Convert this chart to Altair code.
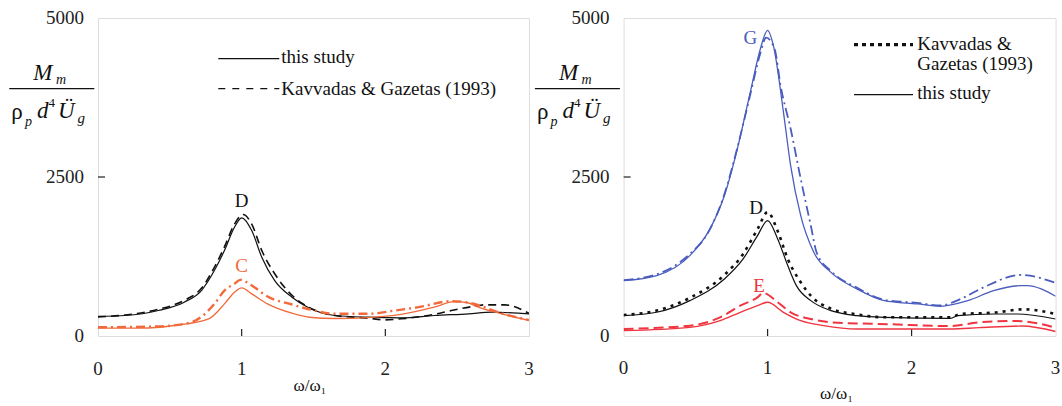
import altair as alt
import pandas as pd

FONT = "Liberation Serif"
ORANGE = "#F26A3C"
BLUE = "#4A5CBE"
RED = "#EE3540"
INK = "#111111"

# ---------------- Left panel data ----------------
L_D_STUDY_X = [0, 0.19, 0.42, 0.60, 0.72, 0.81, 0.88, 0.95, 1.0, 1.07, 1.14, 1.23, 1.35, 1.46, 1.65, 1.88, 2.11, 2.34, 2.58, 2.74, 3.0]
L_D_STUDY_Y = [307, 322, 401, 532, 715, 1030, 1344, 1710, 1858, 1658, 1239, 872, 610, 453, 322, 296, 286, 322, 349, 374, 349]
L_D_KG_X = [0, 0.19, 0.42, 0.60, 0.72, 0.81, 0.88, 0.95, 1.01, 1.07, 1.14, 1.23, 1.35, 1.46, 1.65, 1.88, 2.0, 2.11, 2.34, 2.46, 2.64, 2.69, 2.83, 3.0]
L_D_KG_Y = [300, 330, 420, 560, 750, 1080, 1400, 1760, 1910, 1760, 1344, 978, 640, 460, 322, 280, 254, 270, 341, 401, 475, 490, 490, 355]
L_C_STUDY_X = [0, 0.30, 0.53, 0.77, 0.88, 0.95, 1.0, 1.07, 1.18, 1.35, 1.47, 1.65, 1.88, 2.11, 2.34, 2.48, 2.58, 2.62, 2.81, 3.0]
L_C_STUDY_Y = [123, 123, 165, 270, 505, 689, 757, 663, 505, 358, 295, 275, 290, 340, 453, 540, 519, 479, 349, 244]
L_C_KG_X = [0, 0.42, 0.65, 0.81, 0.88, 0.95, 0.99, 1.07, 1.18, 1.35, 1.47, 1.65, 1.88, 2.07, 2.23, 2.46, 2.58, 2.81, 3.0]
L_C_KG_Y = [138, 150, 217, 505, 715, 820, 883, 794, 620, 495, 420, 349, 349, 401, 453, 547, 525, 355, 250]
L_LABEL_X = [1.0, 1.0]
L_LABEL_Y = [2130, 1093]
L_LABEL_T = ["D", "C"]
L_LABEL_C = [INK, ORANGE]

# ---------------- Right panel data ----------------
R_G_STUDY_X = [0, 0.23, 0.46, 0.60, 0.70, 0.79, 0.88, 0.95, 1.0, 1.04, 1.11, 1.16, 1.23, 1.32, 1.44, 1.62, 1.81, 2.04, 2.2, 2.39, 2.57, 2.76, 2.8, 3.0]
R_G_STUDY_Y = [870, 950, 1264, 1684, 2208, 2943, 3835, 4517, 4806, 4569, 3521, 2680, 1893, 1320, 1000, 740, 556, 504, 467, 556, 713, 792, 792, 625]
R_G_KG_X = [0, 0.23, 0.46, 0.58, 0.70, 0.79, 0.88, 0.95, 0.99, 1.05, 1.09, 1.16, 1.23, 1.30, 1.34, 1.44, 1.62, 1.81, 2.04, 2.2, 2.34, 2.5, 2.76, 3.0]
R_G_KG_Y = [880, 970, 1290, 1600, 2230, 2960, 3800, 4450, 4690, 4500, 3939, 3258, 2471, 1736, 1317, 1020, 760, 570, 520, 480, 582, 766, 960, 834]
R_D_STUDY_X = [0, 0.23, 0.46, 0.70, 0.83, 0.93, 1.0, 1.07, 1.14, 1.2, 1.30, 1.44, 1.62, 1.81, 2.27, 2.32, 2.57, 2.73, 3.0]
R_D_STUDY_Y = [320, 373, 556, 897, 1212, 1579, 1815, 1527, 1107, 792, 556, 398, 320, 294, 278, 320, 346, 346, 267]
R_D_KG_X = [0, 0.23, 0.46, 0.70, 0.83, 0.93, 1.0, 1.07, 1.14, 1.23, 1.30, 1.44, 1.62, 1.81, 2.27, 2.34, 2.57, 2.78, 3.0]
R_D_KG_Y = [330, 400, 600, 960, 1290, 1680, 1947, 1650, 1212, 845, 634, 430, 340, 294, 294, 346, 367, 420, 346]
R_E_STUDY_X = [0, 0.46, 0.67, 0.81, 0.93, 1.0, 1.11, 1.23, 1.39, 1.62, 2.27, 2.47, 2.77, 3.0]
R_E_STUDY_Y = [84, 136, 241, 373, 477, 530, 373, 241, 163, 110, 110, 131, 157, 70]
R_E_KG_X = [0, 0.46, 0.67, 0.81, 0.93, 0.97, 1.07, 1.16, 1.30, 1.44, 1.85, 2.27, 2.47, 2.73, 3.0]
R_E_KG_Y = [110, 163, 293, 477, 608, 677, 530, 373, 267, 215, 185, 157, 215, 236, 131]
R_LABEL_X = [0.88, 0.92, 0.94]
R_LABEL_Y = [4690, 2015, 792]
R_LABEL_T = ["G", "D", "E"]
R_LABEL_C = [BLUE, INK, RED]

X_TICKS = [0, 1, 2, 3]
Y_TICKS = [0, 2500, 5000]
X_INNER_TICKS = [1, 2]
Y_INNER_TICKS = [2500]

XS = alt.Scale(domain=[0, 3], nice=False)
YS = alt.Scale(domain=[0, 5000], nice=False)


def X(field):
    return alt.X(field, scale=XS, axis=None)


def Y(field):
    return alt.Y(field, scale=YS, axis=None)


def line(xs, ys, color, width, dash=None):
    df = pd.DataFrame({"x": xs, "y": ys})
    kw = dict(color=color, strokeWidth=width, clip=True, interpolate="monotone")
    if dash:
        kw["strokeDash"] = dash
    return alt.Chart(df).mark_line(**kw).encode(x=X("x:Q"), y=Y("y:Q"))


def txt(s, x, y, size, italic=False, color=INK, align="left", baseline="alphabetic"):
    kw = dict(text=s, font=FONT, fontSize=size, color=color, align=align, baseline=baseline)
    if italic:
        kw["fontStyle"] = "italic"
    return alt.Chart(pd.DataFrame({"k": [0]})).mark_text(**kw).encode(
        x=alt.value(x), y=alt.value(y))


def hrule(x1, x2, y, width=1.2, dash=None, color=INK):
    kw = dict(color=color, strokeWidth=width)
    if dash:
        kw["strokeDash"] = dash
    return alt.Chart(pd.DataFrame({"k": [0]})).mark_rule(**kw).encode(
        x=alt.value(x1), x2=alt.value(x2), y=alt.value(y))


def axis_layers(label_y):
    xt = alt.Chart(pd.DataFrame({"x": X_INNER_TICKS})).transform_calculate(
        y0="0", y1="110").mark_rule(color="#222222", strokeWidth=1.2).encode(
        x=X("x:Q"), y=Y("y0:Q"), y2="y1:Q")
    yt = alt.Chart(pd.DataFrame({"y": Y_INNER_TICKS})).transform_calculate(
        x0="0", x1="0.049").mark_rule(color="#222222", strokeWidth=1.2).encode(
        x=X("x0:Q"), x2="x1:Q", y=Y("y:Q"))
    xl = alt.Chart(pd.DataFrame({"v": X_TICKS})).mark_text(
        font=FONT, fontSize=19, color="#222222", baseline="middle").encode(
        x=X("v:Q"), y=alt.value(label_y), text=alt.Text("v:Q", format="d"))
    yl = alt.Chart(pd.DataFrame({"v": Y_TICKS})).mark_text(
        font=FONT, fontSize=19, color="#222222", baseline="middle", align="right").encode(
        x=alt.value(-14), y=Y("v:Q"), text=alt.Text("v:Q", format="d"))
    return [xt, yt, xl, yl]


def ylabel_layers():
    return [
        txt("M", -64.7, 62.3, 23, italic=True),
        txt("m", -42.0, 66.0, 14, italic=True),
        hrule(-88.7, -3.7, 70.7, width=1.3),
        txt("ρ", -86.7, 100.7, 23),
        txt("p", -73.0, 107.5, 14, italic=True),
        txt("d", -61.0, 100.0, 23, italic=True),
        txt("4", -49.5, 89.0, 13),
        txt("Ü", -40.0, 100.0, 23, italic=True),
        txt("g", -20.5, 105.0, 15, italic=True),
    ]


def letters(xs, ys, ts, cs):
    df = pd.DataFrame({"x": xs, "y": ys, "t": ts, "c": cs})
    return alt.Chart(df).mark_text(font=FONT, fontSize=19, baseline="middle").encode(
        x=X("x:Q"), y=Y("y:Q"), text="t:N", color=alt.Color("c:N", scale=None))


left = alt.layer(
    *axis_layers(351),
    line(L_D_KG_X, L_D_KG_Y, INK, 1.6, [8, 5]),
    line(L_D_STUDY_X, L_D_STUDY_Y, INK, 1.2),
    line(L_C_KG_X, L_C_KG_Y, ORANGE, 2.4, [9, 4, 2, 4]),
    line(L_C_STUDY_X, L_C_STUDY_Y, ORANGE, 1.3),
    letters(L_LABEL_X, L_LABEL_Y, L_LABEL_T, L_LABEL_C),
    hrule(120.3, 181.3, 40.7, width=1.3),
    txt("this study", 183.3, 44.5, 19),
    hrule(120.3, 181.3, 70.7, width=1.3, dash=[7, 7]),
    txt("Kavvadas & Gazetas (1993)", 183.3, 77.0, 19),
    *ylabel_layers(),
    txt("ω/ω₁", 212, 368, 17, align="center", baseline="middle"),
).properties(width=431, height=318)

right = alt.layer(
    *axis_layers(350),
    line(R_G_KG_X, R_G_KG_Y, BLUE, 1.8, [10, 4, 2, 4]),
    line(R_G_STUDY_X, R_G_STUDY_Y, BLUE, 1.3),
    line(R_D_KG_X, R_D_KG_Y, INK, 2.6, [3, 5]),
    line(R_D_STUDY_X, R_D_STUDY_Y, INK, 1.2),
    line(R_E_KG_X, R_E_KG_Y, RED, 2.0, [10, 5]),
    line(R_E_STUDY_X, R_E_STUDY_Y, RED, 1.4),
    letters(R_LABEL_X, R_LABEL_Y, R_LABEL_T, R_LABEL_C),
    hrule(230.4, 289.4, 26.7, width=3.2, dash=[4, 4]),
    txt("Kavvadas &", 293.7, 32.4, 19),
    txt("Gazetas (1993)", 293.7, 52.4, 19),
    hrule(230.4, 289.4, 76.7, width=1.3),
    txt("this study", 293.7, 80.7, 19),
    *ylabel_layers(),
    txt("ω/ω₁", 213, 376, 17, align="center", baseline="middle"),
).properties(width=432, height=318)

chart = alt.hconcat(left, right, spacing=94.6, bounds="flush").properties(
    padding={"left": 8, "top": 8, "right": 0, "bottom": 0}
).configure_view(stroke="#222222", strokeWidth=1.3).configure(background="white", font=FONT)

chart.save("out.html", embed_options={"renderer": "svg", "actions": False})
